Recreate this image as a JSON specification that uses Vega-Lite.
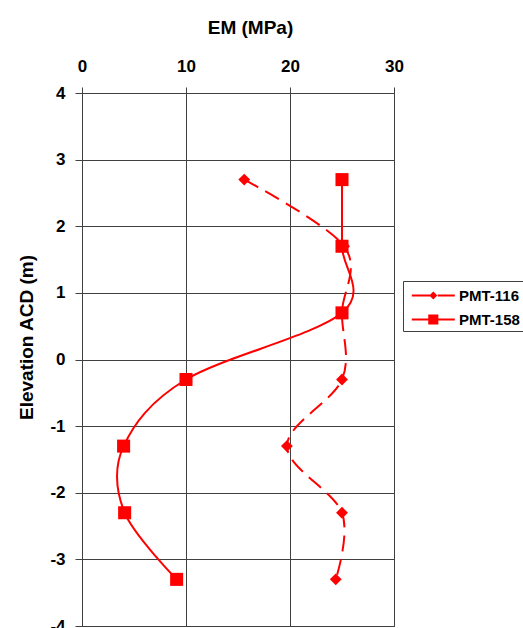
{
  "$schema": "https://vega.github.io/schema/vega-lite/v6.json",
  "width": 312,
  "height": 533,
  "autosize": {"type": "none"},
  "padding": {"left": 82, "top": 93, "right": 129, "bottom": 2},
  "background": "white",
  "config": {
    "font": "Liberation Sans",
    "view": {"stroke": "#404040", "strokeWidth": 1}
  },
  "data": {
    "values": [
      {"series": "PMT-116", "em": 15.6, "elev": 2.7},
      {"series": "PMT-116", "em": 25.2, "elev": 1.7},
      {"series": "PMT-116", "em": 25.0, "elev": 0.7},
      {"series": "PMT-116", "em": 25.0, "elev": -0.3},
      {"series": "PMT-116", "em": 19.7, "elev": -1.3},
      {"series": "PMT-116", "em": 25.0, "elev": -2.3},
      {"series": "PMT-116", "em": 24.4, "elev": -3.3},
      {"series": "PMT-158", "em": 25.0, "elev": 2.7},
      {"series": "PMT-158", "em": 25.0, "elev": 1.7},
      {"series": "PMT-158", "em": 25.0, "elev": 0.7},
      {"series": "PMT-158", "em": 10.0, "elev": -0.3},
      {"series": "PMT-158", "em": 4.0, "elev": -1.3},
      {"series": "PMT-158", "em": 4.1, "elev": -2.3},
      {"series": "PMT-158", "em": 9.1, "elev": -3.3}
    ]
  },
  "encoding": {
    "x": {
      "field": "em",
      "type": "quantitative",
      "scale": {"domain": [0, 30], "nice": false, "zero": false},
      "axis": {
        "orient": "top",
        "values": [0, 10, 20, 30],
        "grid": true,
        "gridColor": "#404040",
        "gridOpacity": 1,
        "domainColor": "#404040",
        "tickColor": "#404040",
        "tickSize": 6,
        "labelFontSize": 17,
        "labelFontWeight": "bold",
        "labelColor": "black",
        "labelPadding": 12,
        "labelFlush": false,
        "labelOverlap": false,
        "title": "EM (MPa)",
        "titleFontSize": 19,
        "titleFontWeight": "bold",
        "titleColor": "black",
        "titleX": 168,
        "titleY": -60,
        "titleAlign": "center",
        "titleBaseline": "alphabetic"
      }
    },
    "y": {
      "field": "elev",
      "type": "quantitative",
      "scale": {"domain": [-4, 4], "nice": false, "zero": false},
      "axis": {
        "values": [-4, -3, -2, -1, 0, 1, 2, 3, 4],
        "labelExpr": "replace(datum.label, '\u2212', '-')",
        "grid": true,
        "gridColor": "#404040",
        "gridOpacity": 1,
        "domainColor": "#404040",
        "tickColor": "#404040",
        "tickSize": 7,
        "labelFontSize": 17,
        "labelFontWeight": "bold",
        "labelColor": "black",
        "labelPadding": 10,
        "labelFlush": false,
        "labelOverlap": false,
        "title": "Elevation ACD (m)",
        "titleFontSize": 19,
        "titleFontWeight": "bold",
        "titleColor": "black",
        "titleAngle": 270,
        "titleX": -50,
        "titleY": 244,
        "titleAlign": "center",
        "titleBaseline": "alphabetic"
      }
    }
  },
  "layer": [
    {
      "transform": [{"filter": "datum.series === 'PMT-116'"}],
      "mark": {"type": "line", "interpolate": "cardinal", "color": "red", "strokeWidth": 2, "strokeDash": [16, 8]},
      "encoding": {"order": {"field": "elev", "sort": "descending"}}
    },
    {
      "transform": [{"filter": "datum.series === 'PMT-158'"}],
      "mark": {"type": "line", "interpolate": "cardinal", "color": "red", "strokeWidth": 2},
      "encoding": {"order": {"field": "elev", "sort": "descending"}}
    },
    {
      "transform": [{"filter": "datum.series === 'PMT-116'"}],
      "mark": {"type": "point", "shape": "diamond", "filled": true, "color": "red", "size": 140, "opacity": 1}
    },
    {
      "transform": [{"filter": "datum.series === 'PMT-158'"}],
      "mark": {"type": "point", "shape": "square", "filled": true, "color": "red", "size": 170, "opacity": 1}
    },
    {
      "mark": {"type": "point", "filled": true, "color": "red", "opacity": 0},
      "encoding": {
        "shape": {
          "field": "series",
          "type": "nominal",
          "scale": {
            "domain": ["PMT-116", "PMT-158"],
            "range": [
              "M-0.53,-0.093L1.47,-0.093L1.47,0.093L-0.53,0.093ZM1.88,-0.093L3.47,-0.093L3.47,0.093L1.88,0.093ZM1.1,0L1.47,-0.37L1.84,0L1.47,0.37Z",
              "M-0.53,-0.093L3.47,-0.093L3.47,0.093L-0.53,0.093ZM1.0,-0.47L1.94,-0.47L1.94,0.47L1.0,0.47Z"
            ]
          },
          "legend": {
            "orient": "none",
            "legendX": 321,
            "legendY": 188,
            "title": null,
            "symbolSize": 462,
            "symbolOpacity": 1,
            "labelFontSize": 15,
            "labelFontWeight": "bold",
            "labelColor": "black",
            "labelOffset": 30,
            "rowPadding": 4,
            "padding": 3,
            "strokeColor": "#404040",
            "fillColor": "white",
            "encode": {
              "symbols": {
                "fill": {"value": "red"},
                "fillOpacity": {"value": 1},
                "opacity": {"value": 1}
              }
            }
          }
        }
      }
    }
  ]
}
